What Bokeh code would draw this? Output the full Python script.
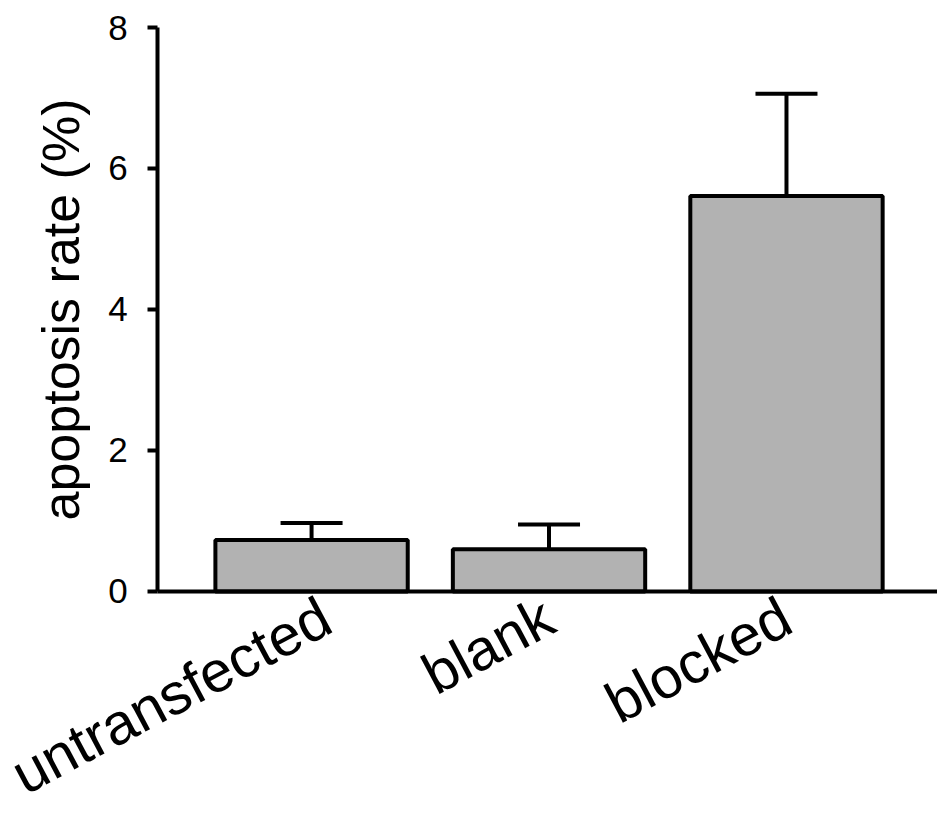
import math
from bokeh.plotting import figure
from bokeh.models import ColumnDataSource, Range1d, Whisker, TeeHead, FixedTicker, Label
from bokeh.embed import file_html
from bokeh.resources import INLINE

categories = ["untransfected", "blank", "blocked"]
rates = [0.73, 0.60, 5.61]
errors = [0.24, 0.35, 1.45]
y_ticks = [0, 2, 4, 6, 8]

positions = list(range(len(categories)))
upper = [r + e for r, e in zip(rates, errors)]
src = ColumnDataSource(data=dict(pos=positions, cat=categories, rate=rates, upper=upper))

FONT = "Liberation Sans"

# Plot area covers the whole canvas; both axes are fixed inside it so the
# large rotated category labels are not clipped.
X_START, X_END = -1.31, 2.636
Y_START, Y_END = -3.05, 8.383
YAXIS_AT = -0.648

p = figure(
    width=937, height=806,
    x_range=Range1d(X_START, X_END),
    y_range=Range1d(Y_START, Y_END),
    output_backend="svg", toolbar_location=None,
    min_border_left=0, min_border_right=0, min_border_top=0, min_border_bottom=0,
)
p.outline_line_color = None
p.xgrid.visible = False
p.ygrid.visible = False
p.background_fill_color = "white"

p.vbar(x="pos", top="rate", width=0.81, source=src,
       fill_color="#b2b2b2", line_color="black", line_width=4)

w = Whisker(source=src, base="pos", upper="upper", lower="rate", dimension="height",
            line_color="black", line_width=4,
            upper_head=TeeHead(size=62, line_color="black", line_width=4),
            lower_head=None)
p.add_layout(w)

# y axis
ya = p.yaxis[0]
ya.fixed_location = YAXIS_AT
ya.bounds = (y_ticks[0], y_ticks[-1])
ya.ticker = FixedTicker(ticks=y_ticks)
ya.axis_line_width = 4
ya.axis_line_color = "black"
ya.major_tick_line_width = 4
ya.major_tick_in = 0
ya.major_tick_out = 10
ya.minor_tick_line_color = None
ya.major_label_standoff = 20
ya.major_label_text_font = FONT
ya.major_label_text_font_size = "35px"
ya.major_label_text_color = "black"

ylabel = Label(x=YAXIS_AT, y=(y_ticks[0] + y_ticks[-1]) / 2, x_offset=-97,
               text="apoptosis rate (%)", angle=math.pi / 2,
               text_align="center", text_baseline="alphabetic",
               text_font=FONT, text_font_size="52px", text_color="black")
p.add_layout(ylabel)

# x axis with rotated category labels, fixed at y = 0
xa = p.xaxis[0]
xa.fixed_location = 0
xa.bounds = (YAXIS_AT, X_END)
xa.ticker = FixedTicker(ticks=positions)
xa.major_label_overrides = {i: c for i, c in zip(positions, categories)}
xa.axis_line_width = 4
xa.axis_line_color = "black"
xa.major_tick_line_color = None
xa.major_tick_out = 0
xa.major_tick_in = 0
xa.minor_tick_line_color = None
xa.major_label_orientation = math.radians(28)
xa.major_label_standoff = 21
xa.major_label_text_font = FONT
xa.major_label_text_font_size = "58px"
xa.major_label_text_color = "black"

open("out.html", "w").write(file_html(p, INLINE))
